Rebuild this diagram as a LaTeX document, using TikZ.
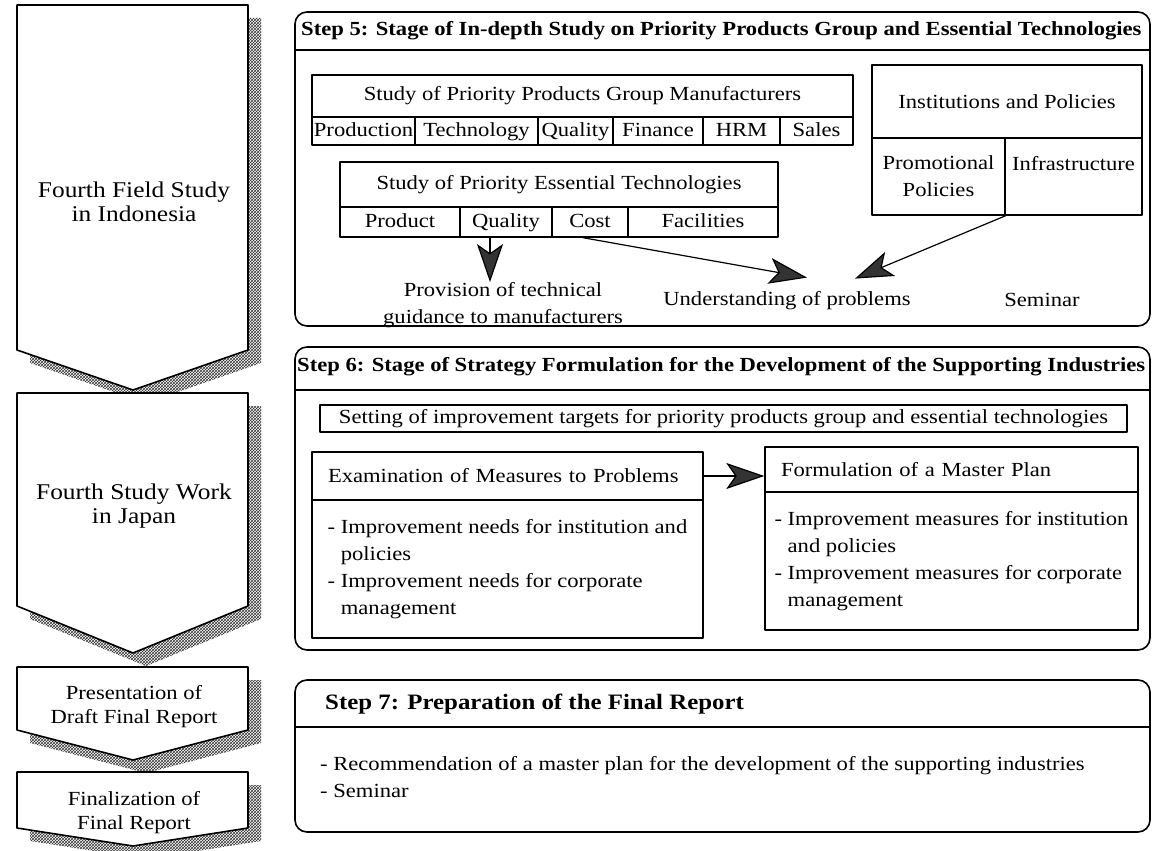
\documentclass[tikz,border=0pt]{standalone}
\usepackage{fontspec}
\setmainfont{Liberation Serif}[FakeStretch=1.13]
\usetikzlibrary{arrows.meta,patterns}

\newcommand\bodyfont{\fontsize{20}{27}\selectfont}
\newcommand\phasefont{\fontsize{22.5}{24}\selectfont}
\newcommand\smallphasefont{\fontsize{20}{24}\selectfont}
\newcommand\headfont{\fontsize{20}{24}\selectfont\bfseries}

\begin{document}
\begin{tikzpicture}[x=1pt, y=-1pt, line join=round,
  stage/.style={draw, line width=1.6pt, rounded corners=12pt},
  phase/.style={draw, line width=1.6pt, fill=white},
  shade/.style={pattern=crosshatch, pattern color=black!80},
  cell/.style={draw, line width=1.4pt, inner sep=0pt, font=\bodyfont},
  rowcell/.style={cell, text height=14pt, text depth=4pt},
  lhead/.style={cell, align=left, inner xsep=16pt},
  lbody/.style={cell, align=left},
  txt/.style={inner sep=0pt, font=\bodyfont, align=center},
  title/.style={inner sep=0pt, anchor=west, font=\headfont},
  big/.style={-{Stealth[length=38pt, width=26pt, inset=9pt, fill=black!80]}, line width=1.2pt}]
  \useasboundingbox (0,0) rectangle (1152,851);

  % phases on the left
  \foreach \t/\b/\p in {5/350/390, 393/606/653, 667/730/760, 772/828/846} {
    \fill[shade] (30,\t+13) -- (261,\t+13) -- (261,\b+13) -- (146,\p+13) -- (30,\b+13) -- cycle;
    \draw[phase] (17,\t) -- (248,\t) -- (248,\b) -- (133,\p) -- (17,\b) -- cycle;
  }
  \node[txt, font=\phasefont] (field) at (134,202) {Fourth Field Study\\in Indonesia};
  \node[txt, font=\phasefont] (japan) at (134,506) {Fourth Study Work\\in Japan};
  \node[txt, font=\smallphasefont] (draft) at (134,707) {Presentation of\\Draft Final Report};
  \node[txt, font=\smallphasefont] (final) at (134,813) {Finalization of\\Final Report};

  % step 5
  \draw[stage] (295,12) rectangle (1150,326);
  \draw[line width=1.4pt] (295,50) -- (1150,50);
  \node[title] (s5) at (301,31) {Step 5: Stage of In-depth Study on Priority Products Group and Essential Technologies};

  \node[cell, minimum width=541pt, minimum height=42pt] (pgHead) at (582.5,96)
    {Study of Priority Products Group Manufacturers};
  \foreach \l/\c/\w in {Production/363.5/103, Technology/476.5/123, Quality/575.5/75,
                        Finance/658/90, HRM/741.5/77, Sales/816.5/73}
    \node[rowcell, minimum width=\w pt, minimum height=28pt] (pg\l) at (\c,131) {\l};

  \node[cell, minimum width=438pt, minimum height=45pt] (etHead) at (559,184.5)
    {Study of Priority Essential Technologies};
  \foreach \l/\c/\w in {Product/400/120, Quality/506/92, Cost/590/76, Facilities/703/150}
    \node[rowcell, minimum width=\w pt, minimum height=30pt] (et\l) at (\c,222) {\l};

  \node[cell, minimum width=270pt, minimum height=73pt] (ipHead) at (1007,101.5)
    {Institutions and Policies};
  \node[cell, minimum width=133pt, minimum height=77pt, align=center] (ipPromo) at (938.5,176.5)
    {Promotional\\Policies};
  \node[cell, minimum width=137pt, minimum height=77pt, align=center] (ipInfra) at (1073.5,176.5)
    {Infrastructure\\\mbox{}};

  \node[txt] (prov) at (503,305) {Provision of technical\\guidance to manufacturers};
  \node[txt] (und) at (787,301) {Understanding of problems};
  \node[txt] (sem) at (1042,300) {Seminar};

  \draw[big] ([xshift=-16pt]etQuality.south) -- ([xshift=-13pt]prov.north);
  \draw[big] ([xshift=-7pt]etCost.south) -- ([xshift=20pt,yshift=14pt]und.north);
  \draw[big] (ipPromo.south east) -- ([xshift=68pt,yshift=13pt]und.north);

  % step 6
  \draw[stage] (295,347) rectangle (1150,650);
  \draw[line width=1.4pt] (295,390) -- (1150,390);
  \node[title] (s6) at (297,367) {Step 6: Stage of Strategy Formulation for the Development of the Supporting Industries};

  \node[cell, minimum width=807pt, minimum height=27pt] (target) at (723.5,418.5)
    {Setting of improvement targets for priority products group and essential technologies};

  \node[lhead, text width=359pt, minimum height=48pt] (exHead) at (507.5,476)
    {Examination of Measures to Problems};
  \node[lbody, minimum width=391pt, minimum height=138pt] (exBody) at (507.5,569)
    {\mbox{}\\[-13pt]- Improvement needs for institution and\\\phantom{- }policies\\- Improvement needs for corporate\\\phantom{- }management};

  \node[lhead, text width=341pt, minimum height=45pt] (fmHead) at (951.5,469.5)
    {Formulation of a Master Plan};
  \node[lbody, minimum width=373pt, minimum height=138pt] (fmBody) at (951.5,561)
    {\mbox{}\\[-13pt]- Improvement measures for institution\\\phantom{- }and policies\\- Improvement measures for corporate\\\phantom{- }management};

  \draw[big] (exHead.east) -- (exHead.east -| fmHead.west);

  % step 7
  \draw[stage] (295,680) rectangle (1150,832);
  \draw[line width=1.4pt] (295,727) -- (1150,727);
  \node[title, font=\fontsize{22}{26}\selectfont\bfseries] (s7) at (325,704) {Step 7: Preparation of the Final Report};
  \node[txt, align=left, anchor=west] (s7body) at (320,777)
    {- Recommendation of a master plan for the development of the supporting industries\\- Seminar};
\end{tikzpicture}
\end{document}
